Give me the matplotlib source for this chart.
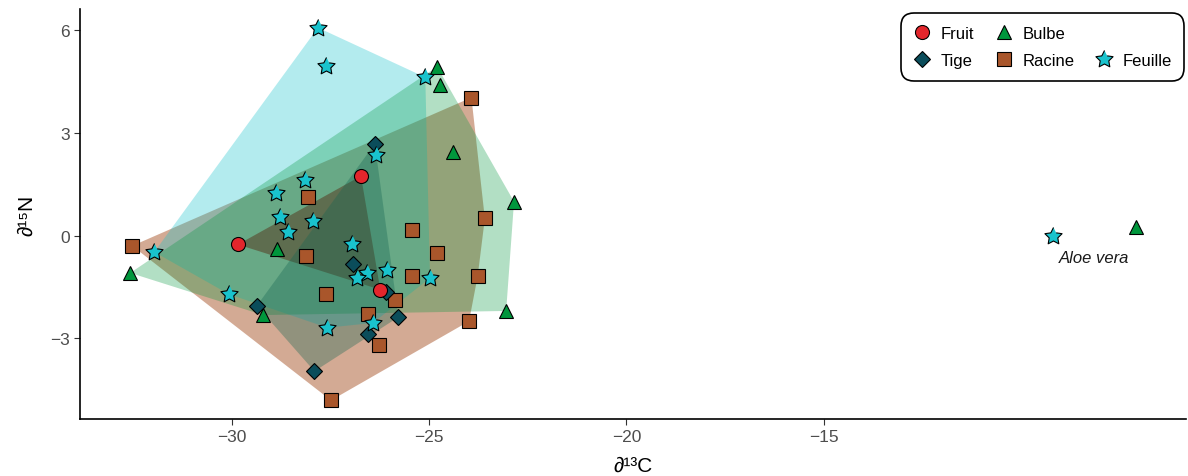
import numpy as np
import matplotlib
matplotlib.use('Agg')
import matplotlib.pyplot as plt
from matplotlib.lines import Line2D

plt.rcParams['font.family'] = ['Liberation Sans', 'DejaVu Sans']

# données (hors Aloe vera)
FRUIT_X = [-29.85, -26.73, -26.24]
FRUIT_Y = [-0.26, 1.74, -1.58]

TIGE_X = [-26.38, -26.93, -26.10, -29.37, -25.78, -26.55, -27.91]
TIGE_Y = [2.68, -0.82, -1.64, -2.05, -2.38, -2.86, -3.96]

RACINE_X = [-32.53, -23.93, -28.08, -25.44, -23.59, -24.81, -28.13, -25.44,
            -23.77, -27.62, -25.87, -26.55, -23.99, -26.27, -27.49]
RACINE_Y = [-0.30, 4.03, 1.14, 0.16, 0.50, -0.50, -0.60, -1.19,
            -1.17, -1.71, -1.87, -2.30, -2.50, -3.20, -4.81]

BULBE_X = [-32.58, -28.85, -29.21, -23.05, -22.85, -24.41, -24.72, -24.80]
BULBE_Y = [-1.09, -0.38, -2.32, -2.20, 0.99, 2.43, 4.40, 4.93]

FEUILLE_X = [-27.82, -27.61, -25.10, -26.35, -28.16, -28.89, -28.78, -27.95,
             -28.59, -31.97, -26.95, -26.06, -26.58, -26.84, -24.98, -30.08,
             -27.58, -26.43]
FEUILLE_Y = [6.07, 4.96, 4.62, 2.36, 1.63, 1.23, 0.55, 0.42,
             0.11, -0.48, -0.24, -1.00, -1.09, -1.24, -1.24, -1.71,
             -2.69, -2.55]

# Aloe vera, hors enveloppes
ALOE_BULBE = (-7.09, 0.24)
ALOE_FEUILLE = (-9.19, 0.0)
ALOE_LABEL = 'Aloe vera'
ALOE_LABEL_POS = (-8.15, -0.65)

X_TICKS = [-30, -25, -20, -15]
Y_TICKS = [-3, 0, 3, 6]

# étoile un peu plus "grasse" que le '*' de matplotlib
_ang = np.pi / 2 + np.arange(10) * np.pi / 5
_rad = np.where(np.arange(10) % 2 == 0, 1.0, 0.5)
STAR = list(zip(_rad * np.cos(_ang), _rad * np.sin(_ang)))

# ordre de dessin des enveloppes : nom, couleur de remplissage, alpha
HULL_STYLE = [
    ('Racine', '#A9562B', 0.5),
    ('Feuille', '#19C3CD', 0.33),
    ('Bulbe', '#00963C', 0.3),
    ('Fruit', '#53250C', 0.45),
    ('Tige', '#166753', 0.35),
]

# nom : x, y, marqueur, couleur, taille
POINT_STYLE = {
    'Racine': (RACINE_X, RACINE_Y, 's', '#A9562B', 10.4),
    'Bulbe': (BULBE_X, BULBE_Y, '^', '#00963C', 10.6),
    'Tige': (TIGE_X, TIGE_Y, 'D', '#0B4D5B', 8.0),
    'Fruit': (FRUIT_X, FRUIT_Y, 'o', '#E3262C', 10.1),
    'Feuille': (FEUILLE_X, FEUILLE_Y, STAR, '#19C3CD', 13.0),
}


def convex_hull(xs, ys):
    pts = sorted(set(zip(xs, ys)))

    def cross(o, a, b):
        return (a[0] - o[0]) * (b[1] - o[1]) - (a[1] - o[1]) * (b[0] - o[0])

    lower, upper = [], []
    for p in pts:
        while len(lower) >= 2 and cross(lower[-2], lower[-1], p) <= 0:
            lower.pop()
        lower.append(p)
    for p in reversed(pts):
        while len(upper) >= 2 and cross(upper[-2], upper[-1], p) <= 0:
            upper.pop()
        upper.append(p)
    return lower[:-1] + upper[:-1]


fig = plt.figure(figsize=(11.88, 4.77), dpi=100)
ax = fig.add_axes([0.0673, 0.1195, 0.931, 0.8595])

# enveloppes
for name, col, alpha in HULL_STYLE:
    xs, ys = POINT_STYLE[name][0], POINT_STYLE[name][1]
    hull = convex_hull(xs, ys)
    ax.fill([p[0] for p in hull], [p[1] for p in hull], color=col, alpha=alpha,
            linewidth=0, zorder=1)

# points
handles = {}
for name in ['Racine', 'Bulbe', 'Tige', 'Fruit', 'Feuille']:
    xs, ys, mk, col, ms = POINT_STYLE[name]
    px, py = list(xs), list(ys)
    if name == 'Bulbe':
        px.append(ALOE_BULBE[0]); py.append(ALOE_BULBE[1])
    if name == 'Feuille':
        px.append(ALOE_FEUILLE[0]); py.append(ALOE_FEUILLE[1])
    ax.plot(px, py, linestyle='none', marker=mk, markersize=ms,
            markerfacecolor=col, markeredgecolor='black', markeredgewidth=0.8,
            zorder=3)
    handles[name] = Line2D([], [], linestyle='none', marker=mk, markersize=ms,
                           markerfacecolor=col, markeredgecolor='black',
                           markeredgewidth=0.8)

ax.text(ALOE_LABEL_POS[0], ALOE_LABEL_POS[1], ALOE_LABEL, style='italic',
        fontsize=12, ha='center', va='center', color='#1a1a1a')

# limites façon ggplot (5 % d'expansion)
all_x = FRUIT_X + TIGE_X + RACINE_X + BULBE_X + FEUILLE_X + [ALOE_BULBE[0], ALOE_FEUILLE[0]]
all_y = FRUIT_Y + TIGE_Y + RACINE_Y + BULBE_Y + FEUILLE_Y + [ALOE_BULBE[1], ALOE_FEUILLE[1]]
dx = (max(all_x) - min(all_x)) * 0.05
dy = (max(all_y) - min(all_y)) * 0.05
ax.set_xlim(min(all_x) - dx, max(all_x) + dx)
ax.set_ylim(min(all_y) - dy, max(all_y) + dy)

ax.set_xticks(X_TICKS)
ax.set_yticks(Y_TICKS)
ax.set_xticklabels(['\u2212' + str(abs(t)) if t < 0 else str(t) for t in X_TICKS])
ax.set_yticklabels(['\u2212' + str(abs(t)) if t < 0 else str(t) for t in Y_TICKS])
ax.tick_params(labelsize=12.5, labelcolor='#4D4D4D', color='#333333',
               length=4, width=0.8)

for s in ['top', 'right']:
    ax.spines[s].set_visible(False)
for s in ['left', 'bottom']:
    ax.spines[s].set_linewidth(1.2)
    ax.spines[s].set_color('black')

ax.set_xlabel('\u2202\u00b9\u00b3C', fontsize=15, labelpad=8)
ax.set_ylabel('\u2202\u00b9\u2075N', fontsize=15, labelpad=10)

blank = Line2D([], [], linestyle='none', marker='none')
leg_handles = [handles['Fruit'], handles['Tige'], handles['Bulbe'],
               handles['Racine'], blank, handles['Feuille']]
leg_labels = ['Fruit', 'Tige', 'Bulbe', 'Racine', '', 'Feuille']
leg = ax.legend(leg_handles, leg_labels, ncol=3, loc='upper right',
                bbox_to_anchor=(0.9985, 0.99), borderaxespad=0,
                fontsize=12, handlelength=1.0, handletextpad=0.6,
                columnspacing=1.3, labelspacing=0.75, borderpad=0.75,
                frameon=True, fancybox=True)
frame = leg.get_frame()
frame.set_edgecolor('black')
frame.set_linewidth(1.2)
frame.set_alpha(1)
frame.set_boxstyle('round', pad=0, rounding_size=0.75)

fig.savefig('out.png', dpi=100)
